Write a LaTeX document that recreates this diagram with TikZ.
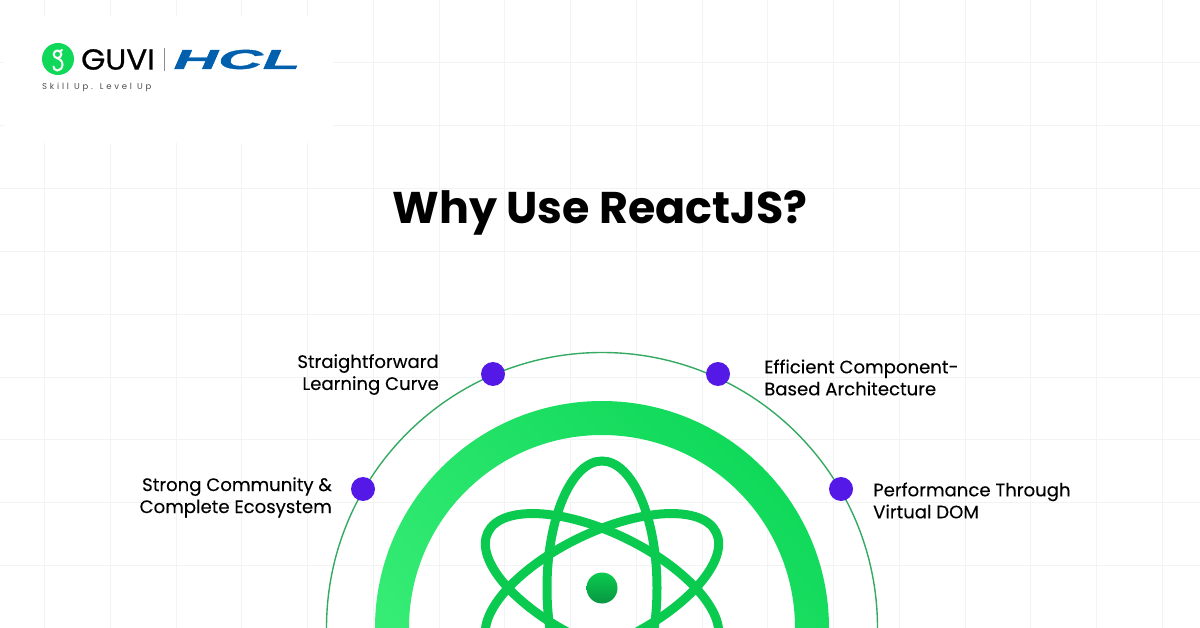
\documentclass[tikz,border=0pt]{standalone}
\usepackage{fontspec}
\setmainfont{Poppins}
\newfontfamily\hclfont[FakeBold=1.2]{Liberation Sans}
\newfontfamily\tagfont[LetterSpace=33]{Poppins}
\newfontfamily\guvifont[FakeBold=0.8]{Poppins}
\newfontfamily\labfont[FakeBold=0.1]{Poppins}
\usepackage{graphicx}
\definecolor{gridc}{HTML}{F3F3F3}
\definecolor{dotc}{HTML}{5419E6}
\definecolor{atomc}{HTML}{0ACB50}
\definecolor{hclc}{HTML}{0060AE}
\definecolor{guvig}{HTML}{10D95A}
\definecolor{ringlight}{HTML}{3EF07A}
\definecolor{thinc}{HTML}{34AA62}
\definecolor{nucdark}{HTML}{089641}
\tikzset{
 gridline/.style={draw=gridc,line width=0.9pt},
 dotnode/.style={circle,fill=dotc,minimum size=24pt,inner sep=0pt},
 lab/.style={font=\fontsize{18.1}{22}\labfont,text=black,inner sep=0pt},
 orbit/.style={draw=atomc,line width=9pt},
}
\begin{document}
\begin{tikzpicture}[x=1pt,y=-1pt]
\useasboundingbox (0,0) rectangle (1200,628);
\clip (0,0) rectangle (1200,628);
\fill[white] (0,0) rectangle (1200,628);
\foreach \k in {0,...,17} \draw[gridline] ({44.5+65.75*\k},0) -- ({44.5+65.75*\k},628);
\foreach \k in {0,...,8} \draw[gridline] (0,{62.5+62.9*\k}) -- (1200,{62.5+62.9*\k});
\fill[white] (4,16) rectangle (333,143);
% outer thin circle
\draw[line width=1.4pt,draw=thinc] (602,628) circle[radius=275.5];
% thick ring
\shade[even odd rule,top color=guvig,middle color=guvig,bottom color=ringlight,shading angle=-45]
  (602,628) circle[radius=227] (602,628) circle[radius=193];
% atom
\draw[orbit] (602,588) ellipse[x radius=55,y radius=127];
\draw[orbit,rotate around={64:(602,588)}] (602,588) ellipse[x radius=55,y radius=127];
\draw[orbit,rotate around={-64:(602,588)}] (602,588) ellipse[x radius=55,y radius=127];
\shade[top color=atomc,bottom color=nucdark] (602,588) circle[radius=15.5];
% dots
\node[dotnode] (d1) at (363,489) {};
\node[dotnode] (d2) at (493,374) {};
\node[dotnode] (d3) at (718,374) {};
\node[dotnode] (d4) at (841,489) {};
% labels
\node[lab,align=right,anchor=east] (l1) at (332,497.5) {Strong Community \&\\Complete Ecosystem};
\node[lab,align=right,anchor=east] (l2) at (439,374.5) {Straightforward\\Learning Curve};
\node[lab,align=left,anchor=west] (l3) at (764,377.5) {Efficient Component-\\Based Architecture};
\node[lab,align=left,anchor=west] (l4) at (873,500.5) {Performance Through\\Virtual DOM};
% title
\node[font=\fontsize{44.4}{50}\selectfont\bfseries,text=black,inner sep=0pt] (title) at (600,213) {Why Use ReactJS?};
% logo
\fill[guvig] (58,59) circle[radius=16];
\draw[white,line width=2pt] (57.5,54.3) circle[radius=3.8];
\draw[white,line width=2pt,line cap=round] (60,51.5) -- (62,50);
\draw[white,line width=2pt,line cap=round] (56.5,58) .. controls (60,59) and (62.5,61) .. (62.5,64.5) .. controls (62.5,68) and (60,70.5) .. (57.5,70.5) .. controls (55,70.5) and (53.5,68.5) .. (53.5,66.5);
\node[text=black,inner sep=0pt,anchor=west] (guvi) at (81,59.5) {\scalebox{1.07}[1]{\fontsize{29}{30}\guvifont GUVI}};
\draw[draw=black!45,line width=0.7pt] (164.5,48) -- (164.5,71);
\node[text=hclc,inner sep=0pt] (hcl) at (237,59.5) {\scalebox{2.94}[1.3]{\fontsize{21}{22}\hclfont\bfseries\itshape HCL}};
\node[font=\fontsize{8.5}{10}\tagfont,text=black!70,inner sep=0pt,anchor=west] (tag) at (42,87) {Skill Up. Level Up};
\end{tikzpicture}
\end{document}
